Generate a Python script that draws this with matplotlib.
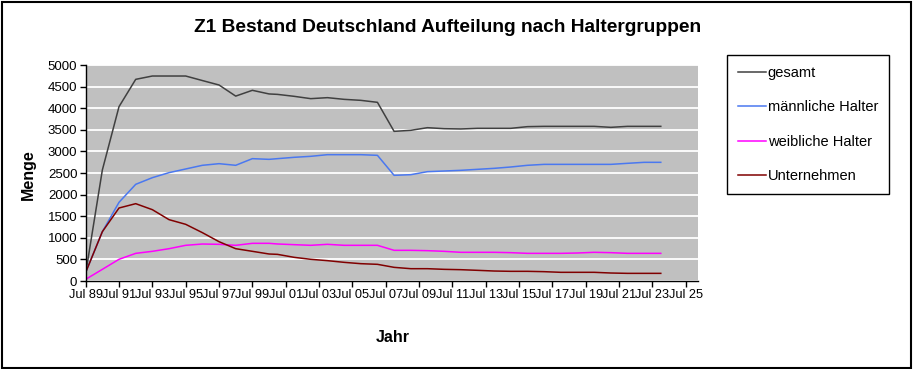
import matplotlib
matplotlib.use("Agg")
import matplotlib.pyplot as plt
import matplotlib.dates as mdates
import numpy as np
from datetime import date
from matplotlib.patches import Rectangle

plt.rcParams["font.family"] = ["Liberation Sans", "DejaVu Sans"]

# Stichtage: bis 2000 jeweils 1. Juli, danach 1. Januar
stichtage = [
    "1989-07", "1990-07", "1991-07", "1992-07", "1993-07", "1994-07",
    "1995-07", "1996-07", "1997-07", "1998-07", "1999-07", "2000-07",
    "2001-01", "2002-01", "2003-01", "2004-01", "2005-01", "2006-01",
    "2007-01", "2008-01", "2009-01", "2010-01", "2011-01", "2012-01",
    "2013-01", "2014-01", "2015-01", "2016-01", "2017-01", "2018-01",
    "2019-01", "2020-01", "2021-01", "2022-01", "2023-01", "2024-01",
]

gesamt = [177, 2570, 4036, 4668, 4745, 4745, 4745, 4640, 4537, 4280, 4414, 4330,
          4320, 4275, 4221, 4244, 4205, 4182, 4136, 3464, 3488, 3549, 3526, 3519,
          3534, 3534, 3534, 3573, 3580, 3580, 3580, 3580, 3557, 3580, 3580, 3580]
maennlich = [200, 1142, 1821, 2238, 2392, 2508, 2593, 2678, 2716, 2678, 2832, 2816,
             2832, 2863, 2886, 2924, 2924, 2924, 2909, 2446, 2461, 2531, 2546, 2562,
             2585, 2608, 2639, 2678, 2700, 2700, 2700, 2700, 2700, 2724, 2747, 2747]
weiblich = [39, 270, 502, 640, 687, 748, 826, 856, 849, 826, 872, 872,
            857, 841, 826, 849, 826, 826, 826, 710, 710, 702, 687, 664,
            664, 664, 656, 640, 640, 640, 648, 664, 656, 640, 640, 640]
unternehmen = [200, 1142, 1690, 1790, 1651, 1420, 1312, 1119, 910, 748, 687, 625,
               617, 548, 502, 471, 432, 401, 386, 316, 285, 285, 270, 262,
               247, 231, 224, 224, 216, 201, 201, 201, 185, 177, 177, 177]

serien = [
    ("gesamt", gesamt, "#404040"),
    ("männliche Halter", maennlich, "#4a78f0"),
    ("weibliche Halter", weiblich, "#ff00ff"),
    ("Unternehmen", unternehmen, "#800000"),
]

dates = [np.datetime64(s + "-01") for s in stichtage]

W, H = 915, 369
fig = plt.figure(figsize=(W / 100, H / 100), dpi=100)
fig.patches.append(Rectangle((0.002, 0.004), 0.994, 0.991, transform=fig.transFigure,
                             fill=False, edgecolor="black", lw=1.5))

left, right, top, bottom = 85.7, 697.7, 65, 281
ax = fig.add_axes([left / W, 1 - bottom / H, (right - left) / W, (bottom - top) / H])
ax.set_facecolor("#c0c0c0")

for name, vals, col in serien:
    ax.plot(dates, vals, color=col, lw=1.1, label=name)

ax.set_ylim(0, 5000)
ax.set_yticks(range(0, 5001, 500))
ax.yaxis.grid(True, color="white", lw=1.3)
ax.set_axisbelow(True)

ax.set_xlim(date(1989, 7, 1), date(2026, 3, 20))
ax.set_xticks([date(y, 7, 1) for y in range(1989, 2026, 2)])
ax.xaxis.set_major_formatter(mdates.DateFormatter("%b %y"))
ax.tick_params(length=4, width=1, direction="out", pad=2)
ax.tick_params(axis="x", labelsize=9.2)
ax.tick_params(axis="y", labelsize=9.5)

for s in ["top", "right"]:
    ax.spines[s].set_visible(False)
for s in ["left", "bottom"]:
    ax.spines[s].set_linewidth(1.0)

fig.text(448 / W, 1 - 28 / H, "Z1 Bestand Deutschland Aufteilung nach Haltergruppen",
         ha="center", va="center", fontsize=13.8, fontweight="bold")
fig.text(28 / W, 1 - 175 / H, "Menge", rotation=90, ha="center", va="center",
         fontsize=11.5, fontweight="bold")
fig.text(393 / W, 1 - 338 / H, "Jahr", ha="center", va="center",
         fontsize=11.5, fontweight="bold")

leg = fig.legend(loc="upper left", bbox_to_anchor=(727 / W, 1 - 55 / H), fontsize=10.5,
                 frameon=True, fancybox=False, edgecolor="black", framealpha=1,
                 borderpad=0.75, labelspacing=1.4, handlelength=1.9,
                 handletextpad=0.15, borderaxespad=0)
leg.get_frame().set_linewidth(1.0)

fig.savefig("out.png", dpi=100)
